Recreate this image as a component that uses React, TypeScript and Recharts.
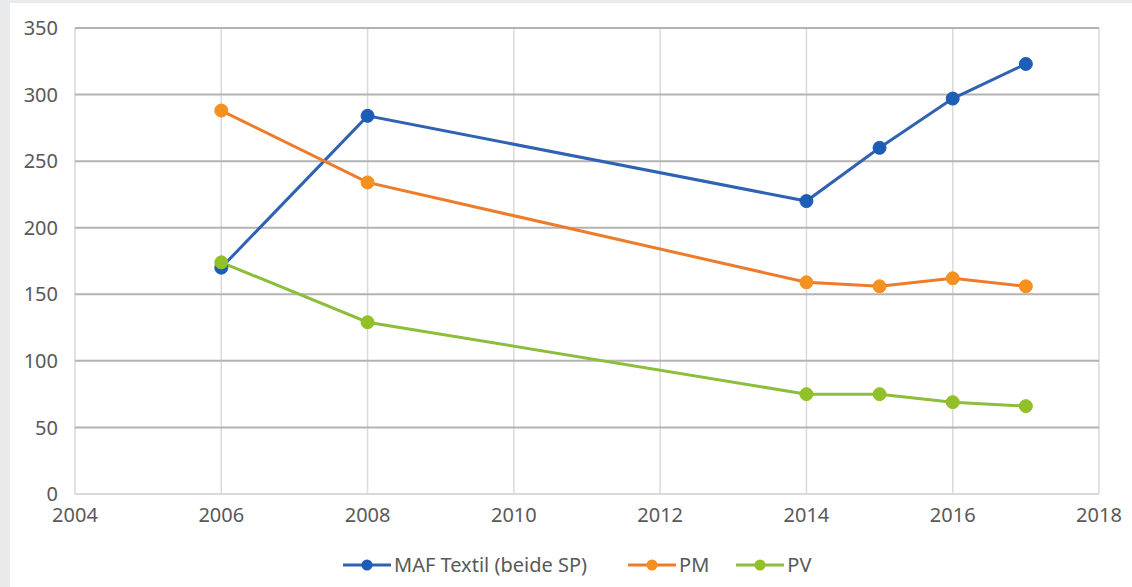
import React from "react";
import { LineChart, Line, XAxis, YAxis, CartesianGrid, Legend } from "recharts";

const years = [2006, 2008, 2014, 2015, 2016, 2017];
const mafTextil = [170, 284, 220, 260, 297, 323];
const pm = [288, 234, 159, 156, 162, 156];
const pv = [174, 129, 75, 75, 69, 66];

const xTicks = [2004, 2006, 2008, 2010, 2012, 2014, 2016, 2018];
const yTicks = [0, 50, 100, 150, 200, 250, 300, 350];

const seriesList = [
  { key: "maf", name: "MAF Textil (beide SP)", line: "#2f62b3", dot: "#1e5db5", gap: 41 },
  { key: "pm", name: "PM", line: "#ec7b2c", dot: "#f59120", gap: 27 },
  { key: "pv", name: "PV", line: "#8dbd3c", dot: "#92c028", gap: 0 },
];

const data = years.map((year, i) => ({
  year,
  maf: mafTextil[i],
  pm: pm[i],
  pv: pv[i],
}));

const FONT = "'Noto Sans', 'Open Sans', sans-serif";

const renderLegend = () => (
  <div style={{ display: "flex", justifyContent: "flex-start", alignItems: "center", fontFamily: FONT, fontSize: 20, color: "#595959" }}>
    {seriesList.map((s) => (
      <div key={s.key} style={{ display: "flex", alignItems: "center", marginRight: s.gap }}>
        <svg width={48} height={14} style={{ marginRight: 3 }}>
          <line x1={0} y1={7} x2={48} y2={7} stroke={s.line} strokeWidth={3} />
          <circle cx={24} cy={7} r={5.5} fill={s.dot} />
        </svg>
        <span>{s.name}</span>
      </div>
    ))}
  </div>
);

const App: React.FC = () => {
  return (
    <div style={{ position: "absolute", top: 0, left: 0, width: 1132, height: 587, background: "#e9eaec" }}>
      <div style={{ position: "absolute", top: 3, left: 10, width: 1122, height: 584, background: "#ffffff" }}>
        <LineChart width={1122} height={584} data={data} margin={{ top: 25, right: 33, left: 0, bottom: 63 }}>
          <CartesianGrid horizontal={false} stroke="#d9d9d9" strokeWidth={1.5} verticalValues={xTicks} />
          <CartesianGrid vertical={false} stroke="#b3b3b3" strokeWidth={2} horizontalValues={yTicks.slice(1)} />
          <XAxis
            dataKey="year"
            type="number"
            domain={[2004, 2018]}
            ticks={xTicks}
            height={30}
            tickLine={false}
            axisLine={{ stroke: "#d9d9d9", strokeWidth: 2 }}
            tick={{ fill: "#595959", fontSize: 20, fontFamily: FONT }}
            tickMargin={8}
          />
          <YAxis
            type="number"
            domain={[0, 350]}
            ticks={yTicks}
            width={65}
            tickLine={false}
            axisLine={false}
            tick={{ fill: "#595959", fontSize: 20, fontFamily: FONT }}
            tickMargin={11}
          />
          <Legend
            layout="horizontal"
            verticalAlign="middle"
            align="center"
            content={renderLegend}
            wrapperStyle={{ top: 548, left: 333, width: 600 }}
          />
          {seriesList.map((s) => (
            <Line
              key={s.key}
              dataKey={s.key}
              name={s.name}
              stroke={s.line}
              strokeWidth={3}
              dot={{ r: 6.5, fill: s.dot, stroke: s.dot, strokeWidth: 1 }}
              activeDot={false}
              isAnimationActive={false}
            />
          ))}
        </LineChart>
      </div>
    </div>
  );
};

export default App;
